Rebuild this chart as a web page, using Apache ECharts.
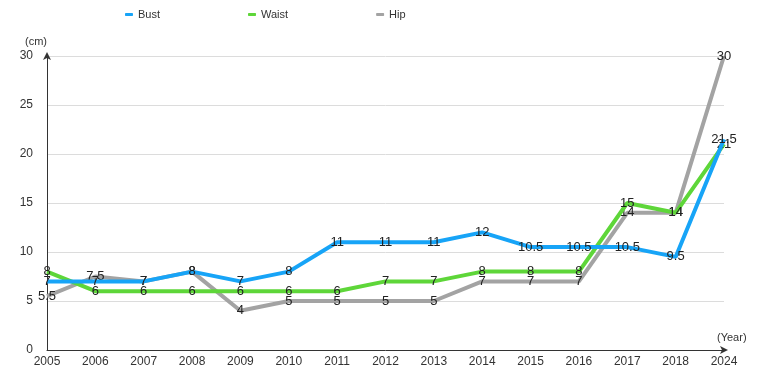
<!DOCTYPE html>
<html><head><meta charset="utf-8">
<script src="https://cdn.jsdelivr.net/npm/echarts@6/dist/echarts.min.js"></script>
<style>html,body{margin:0;padding:0;background:#fff}#c{width:765px;height:385px}</style>
</head><body><div id="c"></div>
<script>
const years = ['2005','2006','2007','2008','2009','2010','2011','2012','2013','2014','2015','2016','2017','2018','2024'];
const bust  = [7, 7, 7, 8, 7, 8, 11, 11, 11, 12, 10.5, 10.5, 10.5, 9.5, 21.5];
const waist = [8, 6, 6, 6, 6, 6, 6, 7, 7, 8, 8, 8, 15, 14, 21];
const hip   = [5.5, 7.5, 7, 8, 4, 5, 5, 5, 5, 7, 7, 7, 14, 14, 30];
const yTicks = [0, 5, 10, 15, 20, 25, 30];

const font = 'Liberation Sans, Arial, sans-serif';
function ser(name, data, color, z) {
  return {
    name, type: 'line', data, z,
    symbol: 'circle', symbolSize: 2, showSymbol: true,
    lineStyle: { width: 4, color },
    itemStyle: { color: 'rgba(0,0,0,0)', borderWidth: 0 },
    label: { show: true, position: 'inside', color: '#222', fontSize: 13, fontFamily: font, opacity: 1 },
    labelLayout: { hideOverlap: false },
    emphasis: { disabled: true }
  };
}
const chart = echarts.init(document.getElementById('c'));
chart.setOption({
  animation: false,
  textStyle: { fontFamily: font },
  legend: {
    top: 4, left: 120, itemGap: 88, itemWidth: 8, itemHeight: 3,
    icon: 'roundRect',
    textStyle: { fontSize: 11, color: '#333', fontFamily: font },
    data: [
      { name: 'Bust', itemStyle: { color: '#17a4f7' } },
      { name: 'Waist', itemStyle: { color: '#5ed639' } },
      { name: 'Hip', itemStyle: { color: '#a3a3a3' } }
    ]
  },
  grid: { left: 47, right: 41, top: 56, bottom: 35 },
  xAxis: {
    type: 'category', data: years, boundaryGap: false,
    axisLine: { lineStyle: { color: '#333', width: 1 }, symbol: ['none', 'arrow'], symbolSize: [6, 8], symbolOffset: [0, 4] },
    axisTick: { show: false },
    axisLabel: { color: '#333', fontSize: 12, margin: 6, fontFamily: font, interval: 0 },
    splitLine: { show: false }
  },
  yAxis: {
    type: 'value', min: yTicks[0], max: yTicks[yTicks.length - 1], interval: 5,
    axisLine: { show: true, lineStyle: { color: '#333', width: 1 }, symbol: ['none', 'arrow'], symbolSize: [6, 8], symbolOffset: [0, 4] },
    axisTick: { show: false },
    axisLabel: { color: '#333', fontSize: 12, margin: 14, fontFamily: font },
    splitLine: { lineStyle: { color: '#dcdcdc', width: 1 } }
  },
  graphic: [
    { type: 'text', left: 25, top: 36, style: { text: '(cm)', fontSize: 11, fill: '#333', fontFamily: font } },
    { type: 'text', left: 717, top: 332, style: { text: '(Year)', fontSize: 11, fill: '#333', fontFamily: font } }
  ],
  series: [
    ser('Bust', bust, '#17a4f7', 5),
    ser('Waist', waist, '#5ed639', 4),
    ser('Hip', hip, '#a3a3a3', 3)
  ]
});
</script></body></html>
